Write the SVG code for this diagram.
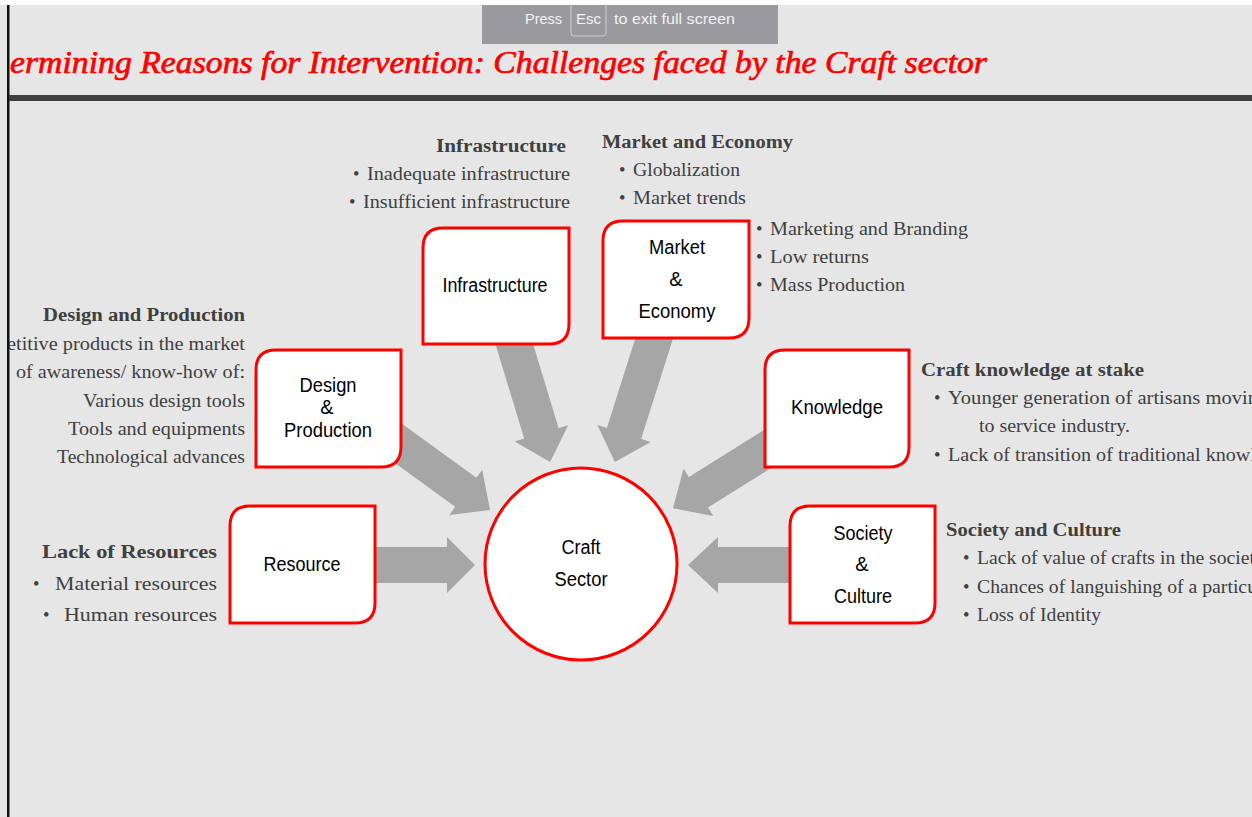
<svg xmlns="http://www.w3.org/2000/svg" width="1252" height="817" viewBox="0 0 1252 817">
<defs>
<style>
.node{fill:#fff;stroke:#ff0000;stroke-width:3}
.nt{font-family:"Liberation Sans",Arial,sans-serif;font-size:20px;fill:#000;text-anchor:middle}
.arr{fill:#a6a6a6}
.tx{font-family:"Liberation Serif","Times New Roman",serif;font-size:18.5px;fill:#404040}
.hd{font-weight:bold}
.e{text-anchor:end}
.ban{font-family:"Liberation Sans",Arial,sans-serif;font-size:15px;fill:#f2f2f2}
</style>
<clipPath id="pg"><rect x="9" y="0" width="1243" height="817"/></clipPath>
</defs>
<rect x="0" y="0" width="1252" height="817" fill="#e6e6e6"/>
<rect x="0" y="0" width="1252" height="5" fill="#ffffff"/>
<rect x="7" y="5" width="2.5" height="812" fill="#111"/>
<rect x="9" y="95" width="1243" height="6" fill="#404040"/>
<g id="banner">
<rect x="482" y="5" width="296" height="39" fill="#9a9a9e"/>
<path d="M571,5 V33 Q571,36 574,36 H603 Q606,36 606,33 V5" fill="none" stroke="#d0d0d0" stroke-width="1"/>
<text class="ban" x="525" y="24" textLength="37" lengthAdjust="spacingAndGlyphs">Press</text>
<text class="ban" x="576" y="24" textLength="25" lengthAdjust="spacingAndGlyphs">Esc</text>
<text class="ban" x="614" y="24" textLength="121" lengthAdjust="spacingAndGlyphs">to exit full screen</text>
</g>
<g clip-path="url(#pg)">
<text x="10" y="73" font-family="'Liberation Serif','Times New Roman',serif" font-style="italic" font-size="32" fill="#ff0000" stroke="#ff0000" stroke-width="0.7" textLength="977" lengthAdjust="spacingAndGlyphs">ermining Reasons for Intervention: Challenges faced by the Craft sector</text>
</g>
<g id="connectors">
<path class="arr" transform="translate(376,565)" d="M0,-18 L71,-18 L71,-28 L99,0 L71,28 L71,18 L0,18 Z"/>
<path class="arr" transform="translate(790,565) rotate(180)" d="M0,-18 L72,-18 L72,-28 L102,0 L72,28 L72,18 L0,18 Z"/>
<path class="arr" transform="translate(380,430) rotate(36)" d="M0,-18 L106,-18 L106,-28 L136,0 L106,28 L106,18 L0,18 Z"/>
<path class="arr" transform="translate(510,330) rotate(73.1)" d="M0,-18 L108,-18 L108,-28 L138,0 L108,28 L108,18 L0,18 Z"/>
<path class="arr" transform="translate(660,320) rotate(107.6)" d="M0,-18 L119,-18 L119,-28 L149,0 L119,28 L119,18 L0,18 Z"/>
<path class="arr" transform="translate(790,435) rotate(148)" d="M0,-18 L108,-18 L108,-28 L138,0 L108,28 L108,18 L0,18 Z"/>
</g>
<g id="infrastructure">
<path class="node" d="M443,228 H569 V324 Q569,344 549,344 H423 V248 Q423,228 443,228 Z"/>
<text class="nt" x="495" y="292" textLength="105" lengthAdjust="spacingAndGlyphs">Infrastructure</text>
</g>
<g id="market">
<path class="node" d="M623,221 H749 V318 Q749,338 729,338 H603 V241 Q603,221 623,221 Z"/>
<text class="nt" x="677" y="254" textLength="56" lengthAdjust="spacingAndGlyphs">Market</text>
<text class="nt" x="676" y="286">&amp;</text>
<text class="nt" x="677" y="318" textLength="77" lengthAdjust="spacingAndGlyphs">Economy</text>
</g>
<g id="design">
<path class="node" d="M276,350 H401 V447 Q401,467 381,467 H256 V370 Q256,350 276,350 Z"/>
<text class="nt" x="328" y="392" textLength="57" lengthAdjust="spacingAndGlyphs">Design</text>
<text class="nt" x="327" y="414">&amp;</text>
<text class="nt" x="328" y="437" textLength="88" lengthAdjust="spacingAndGlyphs">Production</text>
</g>
<g id="knowledge">
<path class="node" d="M785,350 H909 V447 Q909,467 889,467 H765 V370 Q765,350 785,350 Z"/>
<text class="nt" x="837" y="414" textLength="92" lengthAdjust="spacingAndGlyphs">Knowledge</text>
</g>
<g id="resource">
<path class="node" d="M250,506 H375 V603 Q375,623 355,623 H230 V526 Q230,506 250,506 Z"/>
<text class="nt" x="302" y="571" textLength="77" lengthAdjust="spacingAndGlyphs">Resource</text>
</g>
<g id="society">
<path class="node" d="M810,506 H935 V603 Q935,623 915,623 H790 V526 Q790,506 810,506 Z"/>
<text class="nt" x="863" y="540" textLength="59" lengthAdjust="spacingAndGlyphs">Society</text>
<text class="nt" x="862" y="571">&amp;</text>
<text class="nt" x="863" y="603" textLength="58" lengthAdjust="spacingAndGlyphs">Culture</text>
</g>
<g id="craft-sector">
<circle class="node" cx="581" cy="564" r="96"/>
<text class="nt" x="581" y="554" textLength="39" lengthAdjust="spacingAndGlyphs">Craft</text>
<text class="nt" x="581" y="586" textLength="53" lengthAdjust="spacingAndGlyphs">Sector</text>
</g>
<g id="text-infrastructure">
<text class="tx hd e" x="566" y="152" textLength="130" lengthAdjust="spacingAndGlyphs">Infrastructure</text>
<text class="tx" x="353" y="180">•</text>
<text class="tx e" x="570" y="180" textLength="203" lengthAdjust="spacingAndGlyphs">Inadequate infrastructure</text>
<text class="tx" x="349" y="208">•</text>
<text class="tx e" x="570" y="208" textLength="207" lengthAdjust="spacingAndGlyphs">Insufficient infrastructure</text>
</g>
<g id="text-market">
<text class="tx hd" x="602" y="148" textLength="191" lengthAdjust="spacingAndGlyphs">Market and Economy</text>
<text class="tx" x="619" y="176">•</text>
<text class="tx" x="633" y="176" textLength="107" lengthAdjust="spacingAndGlyphs">Globalization</text>
<text class="tx" x="619" y="204">•</text>
<text class="tx" x="633" y="204" textLength="113" lengthAdjust="spacingAndGlyphs">Market trends</text>
<text class="tx" x="756" y="235">•</text>
<text class="tx" x="770" y="235" textLength="198" lengthAdjust="spacingAndGlyphs">Marketing and Branding</text>
<text class="tx" x="756" y="263">•</text>
<text class="tx" x="770" y="263" textLength="99" lengthAdjust="spacingAndGlyphs">Low returns</text>
<text class="tx" x="756" y="291">•</text>
<text class="tx" x="770" y="291" textLength="135" lengthAdjust="spacingAndGlyphs">Mass Production</text>
</g>
<g id="text-design" clip-path="url(#pg)">
<text class="tx hd e" x="245" y="321" textLength="202" lengthAdjust="spacingAndGlyphs">Design and Production</text>
<text class="tx e" x="245" y="350" textLength="238" lengthAdjust="spacingAndGlyphs">etitive products in the market</text>
<text class="tx e" x="245" y="378" textLength="229" lengthAdjust="spacingAndGlyphs">of awareness/ know-how of:</text>
<text class="tx e" x="245" y="407" textLength="162" lengthAdjust="spacingAndGlyphs">Various design tools</text>
<text class="tx e" x="245" y="435" textLength="177" lengthAdjust="spacingAndGlyphs">Tools and equipments</text>
<text class="tx e" x="245" y="463" textLength="188" lengthAdjust="spacingAndGlyphs">Technological advances</text>
</g>
<g id="text-knowledge">
<text class="tx hd" x="921" y="376" textLength="223" lengthAdjust="spacingAndGlyphs">Craft knowledge at stake</text>
<text class="tx" x="934" y="404">•</text>
<text class="tx" x="948" y="404" textLength="310" lengthAdjust="spacingAndGlyphs">Younger generation of artisans movin</text>
<text class="tx" x="979" y="432" textLength="151" lengthAdjust="spacingAndGlyphs">to service industry.</text>
<text class="tx" x="934" y="461">•</text>
<text class="tx" x="948" y="461" textLength="308" lengthAdjust="spacingAndGlyphs">Lack of transition of traditional knowl</text>
</g>
<g id="text-society">
<text class="tx hd" x="946" y="536" textLength="175" lengthAdjust="spacingAndGlyphs">Society and Culture</text>
<text class="tx" x="963" y="564">•</text>
<text class="tx" x="977" y="564" textLength="278" lengthAdjust="spacingAndGlyphs">Lack of value of crafts in the societ</text>
<text class="tx" x="963" y="593">•</text>
<text class="tx" x="977" y="593" textLength="280" lengthAdjust="spacingAndGlyphs">Chances of languishing of a particu</text>
<text class="tx" x="963" y="621">•</text>
<text class="tx" x="977" y="621" textLength="124" lengthAdjust="spacingAndGlyphs">Loss of Identity</text>
</g>
<g id="text-resources">
<text class="tx hd e" x="217" y="558" textLength="175" lengthAdjust="spacingAndGlyphs">Lack of Resources</text>
<text class="tx" x="33" y="590">•</text>
<text class="tx e" x="217" y="590" textLength="162" lengthAdjust="spacingAndGlyphs">Material resources</text>
<text class="tx" x="43" y="621">•</text>
<text class="tx e" x="217" y="621" textLength="153" lengthAdjust="spacingAndGlyphs">Human resources</text>
</g>
</svg>
